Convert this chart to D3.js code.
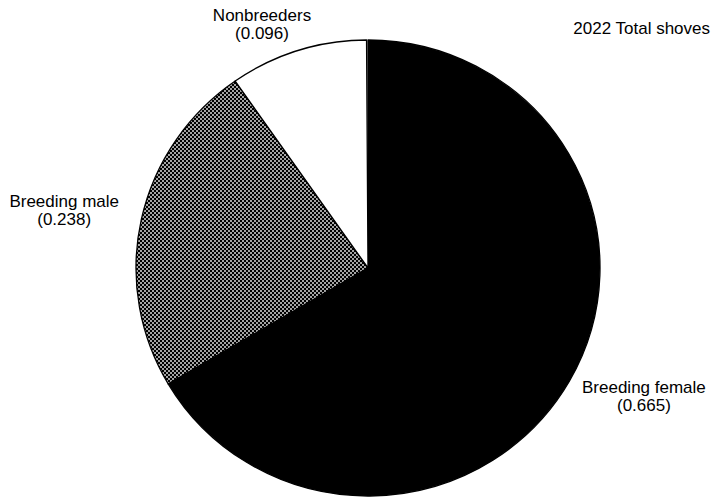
<!DOCTYPE html>
<html>
<head>
<meta charset="utf-8">
<script src="https://cdn.jsdelivr.net/npm/d3@7"></script>
<style>
  html, body { margin: 0; padding: 0; background: #fff; }
  svg { display: block; }
  text { font-family: "Liberation Sans", Arial, Helvetica, sans-serif; font-size: 17px; fill: #000; }
</style>
</head>
<body>
<svg id="chart" width="711" height="498"></svg>
<script>
// Share of total shoves by group
const categories = ["Breeding female", "Breeding male", "Nonbreeders"];
const shares = [0.665, 0.238, 0.096];
const shareText = ["0.665", "0.238", "0.096"];
const titleText = "2022 Total shoves";

// Fills, in the same order as the categories ("checker" = hatched pattern)
const fills = ["#000", "checker", "#fff"];

// Pie geometry (slightly wider than tall)
const cx = 368, cy = 268, rx = 232, ry = 228;

// Label blocks: (x, first baseline), aligned by their block edge
const labelLayout = [
  { x: 582, y: 393, align: "start" },
  { x: 119, y: 207, align: "end" },
  { x: 262, y: 21, align: "middle" }
];
const lineGap = 18;

const svg = d3.select("#chart");
const W = +svg.attr("width"), H = +svg.attr("height");

// Black checkerboard with small white cells, laid out in page pixels
const defs = svg.append("defs");
const pat = defs.append("pattern")
  .attr("id", "checker")
  .attr("patternUnits", "userSpaceOnUse")
  .attr("width", 4).attr("height", 4);
pat.append("rect").attr("width", 4).attr("height", 4).attr("fill", "#000");
pat.append("rect").attr("x", 2.2).attr("y", 0.2).attr("width", 1.6).attr("height", 1.6).attr("fill", "#fff");
pat.append("rect").attr("x", 0.2).attr("y", 2.2).attr("width", 1.6).attr("height", 1.6).attr("fill", "#fff");

const pie = d3.pie().sort(null).value(d => d.value).startAngle(0).endAngle(2 * Math.PI * d3.sum(shares));
const data = categories.map((c, i) => ({ name: c, value: shares[i], fill: fills[i] }));
const arcs = pie(data);

const arc = d3.arc().innerRadius(0).outerRadius(rx);
const pieTransform = `translate(${cx},${cy}) scale(1, ${ry / rx})`;

// Patterned slices: clip a page-space checker rect to the slice shape
arcs.forEach((d, i) => {
  if (d.data.fill !== "checker") return;
  defs.append("clipPath").attr("id", `clip-${i}`)
    .append("path").attr("d", arc(d)).attr("transform", pieTransform);
  svg.append("rect")
    .attr("width", W).attr("height", H)
    .attr("fill", "url(#checker)")
    .attr("clip-path", `url(#clip-${i})`);
});

const g = svg.append("g").attr("transform", pieTransform);

g.selectAll("path.slice")
  .data(arcs)
  .join("path")
  .attr("class", "slice")
  .attr("d", arc)
  .attr("fill", d => d.data.fill === "checker" ? "none" : d.data.fill)
  .attr("stroke", "#000")
  .attr("stroke-width", 1.3)
  .attr("stroke-linejoin", "round")
  .attr("vector-effect", "non-scaling-stroke");

// Slice labels: name on the first line, share in parentheses below
categories.forEach((name, i) => {
  const lay = labelLayout[i];
  const grp = svg.append("g");
  const lines = [name, `(${shareText[i]})`];
  const texts = lines.map((t, k) => grp.append("text")
    .attr("y", lay.y + k * lineGap)
    .attr("text-anchor", "middle")
    .text(t));
  const w = d3.max(texts, t => t.node().getComputedTextLength());
  const mid = lay.align === "start" ? lay.x + w / 2 : lay.align === "end" ? lay.x - w / 2 : lay.x;
  texts.forEach(t => t.attr("x", mid));
});

svg.append("text")
  .attr("x", 710)
  .attr("y", 34)
  .attr("text-anchor", "end")
  .text(titleText);
</script>
</body>
</html>
